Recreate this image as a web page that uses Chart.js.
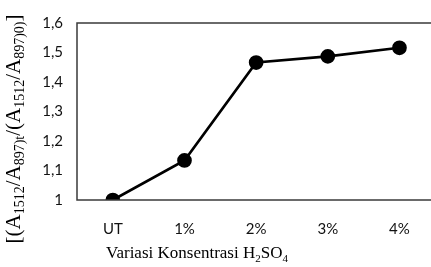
<!DOCTYPE html>
<html>
<head>
<meta charset="utf-8">
<script src="https://cdn.jsdelivr.net/npm/chart.js@4.4.1/dist/chart.umd.min.js"></script>
<style>
  html, body { margin: 0; padding: 0; background: #fff; overflow: hidden; }
  #wrap { width: 431px; height: 267px; overflow: hidden; }
</style>
</head>
<body>
<div id="wrap"><canvas id="LineChart" width="444" height="267"></canvas></div>
<script>
const categories = ['UT', '1%', '2%', '3%', '4%'];
const ratioValues = [1.0, 1.134, 1.466, 1.487, 1.516];
const yTicks = [1, 1.1, 1.2, 1.3, 1.4, 1.5, 1.6];

// pieces of text: [text, isSubscript]
const yTitleParts = [
    ['[(A', false], ['1512', true], ['/A', false], ['897)t', true],
    ['/(A', false], ['1512', true], ['/A', false], ['897)0)', true], [']', false]
];
const xTitleParts = [
    ['Variasi Konsentrasi H', false], ['2', true], ['SO', false], ['4', true]
];

function drawParts(c, parts, x, y, size, subRatio) {
    const mainFont = size + 'px "Liberation Serif", "Times New Roman", serif';
    const subFont = Math.round(size * subRatio) + 'px "Liberation Serif", "Times New Roman", serif';
    let total = 0;
    parts.forEach(p => {
        c.font = p[1] ? subFont : mainFont;
        total += c.measureText(p[0]).width;
    });
    let cx = x - total / 2;
    c.textBaseline = 'middle';
    c.textAlign = 'left';
    parts.forEach(p => {
        c.font = p[1] ? subFont : mainFont;
        c.fillText(p[0], cx, p[1] ? y + size * 0.3 : y);
        cx += c.measureText(p[0]).width;
    });
}

const frameAndTitles = {
    id: 'frameAndTitles',
    afterDraw(chart) {
        const c = chart.ctx;
        const a = chart.chartArea;
        c.save();
        c.strokeStyle = '#3a3a3a';
        c.lineWidth = 1.5;
        c.strokeRect(a.left, a.top, a.right - a.left, a.bottom - a.top);
        c.fillStyle = '#000';
        drawParts(c, xTitleParts, 197, 254, 17, 0.62);
        c.translate(14, 129);
        c.rotate(-Math.PI / 2);
        drawParts(c, yTitleParts, 0, 0, 21, 0.68);
        c.restore();
    }
};

new Chart(document.getElementById('LineChart'), {
    type: 'line',
    data: {
        labels: categories,
        datasets: [{
            data: ratioValues,
            borderColor: '#000',
            backgroundColor: '#000',
            borderWidth: 2.7,
            pointRadius: 6,
            pointHoverRadius: 6,
            tension: 0
        }]
    },
    options: {
        responsive: false,
        animation: false,
        layout: { padding: { left: 30, top: 16, right: 0, bottom: 0 } },
        plugins: {
            legend: { display: false },
            tooltip: { enabled: false }
        },
        scales: {
            x: {
                offset: true,
                grid: { display: false, drawTicks: false },
                border: { display: false },
                ticks: {
                    color: '#111',
                    padding: 20,
                    font: { family: 'Lato, "Open Sans", sans-serif', size: 15 }
                },
                afterFit: s => { s.height = 67; }
            },
            y: {
                min: 1,
                max: 1.6,
                afterBuildTicks: s => { s.ticks = yTicks.map(v => ({ value: v })); },
                grid: { display: false, drawTicks: false },
                border: { display: false },
                ticks: {
                    color: '#111',
                    padding: 14,
                    font: { family: 'Lato, "Open Sans", sans-serif', size: 15 },
                    callback: v => String(Number(v).toFixed(1)).replace('.', ',').replace(',0', '')
                },
                afterFit: s => { s.width = 47; }
            }
        }
    },
    plugins: [frameAndTitles]
});
</script>
</body>
</html>
